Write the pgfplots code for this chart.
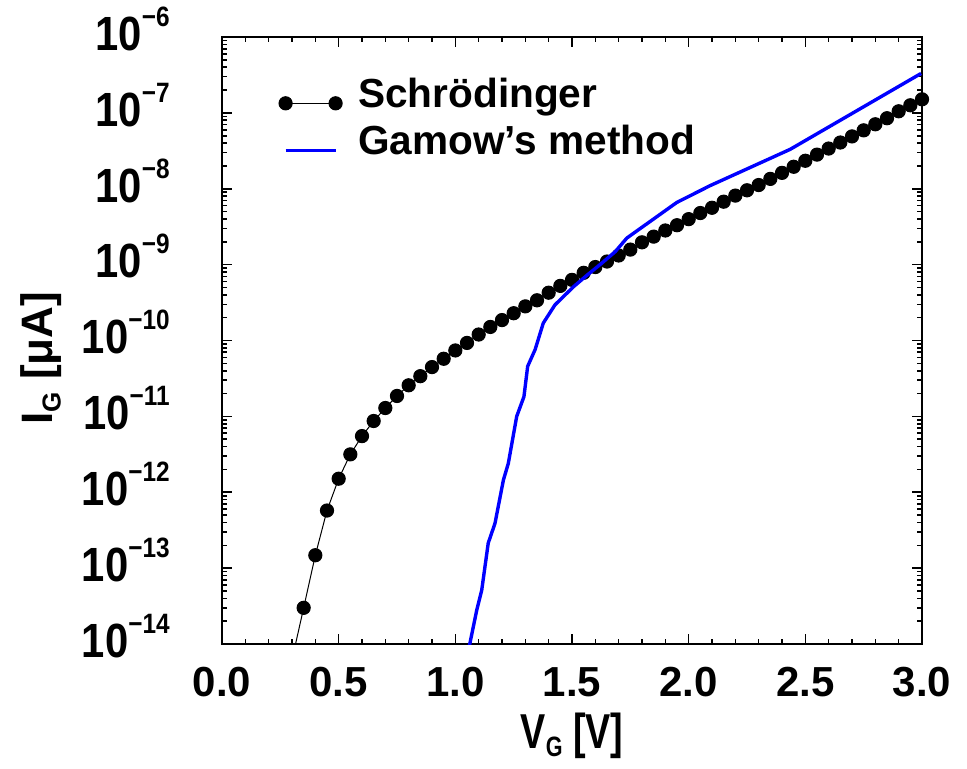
\documentclass[border=0pt]{standalone}
\usepackage{fontspec}
\setmainfont{Liberation Sans}
\usepackage{pgfplots}
\pgfplotsset{compat=1.18}
\newcommand{\ylab}[1]{\scalebox{0.87}[1]{10\raisebox{12pt}{\fontsize{14}{14}\selectfont −#1}}}
\begin{document}
\begin{tikzpicture}
\useasboundingbox (-111pt,-62pt) rectangle (372.5pt,322pt);
\begin{axis}[
  scale only axis, width=350pt, height=303.5pt,
  at={(0pt,0pt)}, anchor=south west,
  ymode=log, xmin=0, xmax=3, ymin=1e-14, ymax=1e-6,
  clip mode=individual,
  axis line style={line width=1.1pt},
  tick style={black, line width=0.8pt},
  tick align=inside,
  major tick length=5pt, minor tick length=2.6pt,
  xtick={0,0.5,1,1.5,2,2.5,3},
  xticklabels={0.0,0.5,1.0,1.5,2.0,2.5,3.0},
  minor x tick num=4,
  ytick={1e-14,1e-13,1e-12,1e-11,1e-10,1e-9,1e-8,1e-7,1e-6},
  yticklabels={\ylab{14},\ylab{13},\ylab{12},\ylab{11},\ylab{10},\ylab{9},\ylab{8},\ylab{7},\ylab{6}},
  xticklabel style={font=\fontsize{21}{21}\selectfont\bfseries, inner sep=0pt, anchor=north, yshift=-11.5pt},
  yticklabel style={font=\fontsize{24}{24}\selectfont\bfseries, inner sep=0pt, anchor=base east, xshift=-26pt, yshift=-6.65pt},
  every axis x label/.style={at={(axis description cs:0.5,-0.172)}, anchor=base, inner sep=0pt, font=\fontsize{24.5}{24.5}\selectfont\bfseries},
  every axis y label/.style={at={(axis description cs:-0.242,0.471)}, rotate=90, anchor=base, inner sep=0pt, font=\fontsize{22}{22}\selectfont\bfseries},
  xlabel={\scalebox{0.77}[1]{V\raisebox{-4pt}{\fontsize{14}{14}\selectfont G} [V]}},
  ylabel={I\raisebox{-4pt}{\fontsize{13}{13}\selectfont G} [μA]},
  legend style={at={(axis description cs:0,1)}, anchor=north west, xshift=28.5pt, yshift=-21.15pt,
    draw=none, fill=none, inner sep=0pt, outer sep=0pt, row sep=8.2pt,
    font=\fontsize{20.3}{20.3}\selectfont\bfseries,
    nodes={inner sep=0pt, anchor=base west, text height=14pt, text depth=0pt},
    /tikz/every odd column/.append style={column sep=8pt}},
  legend image code/.code={\draw[#1] plot coordinates {(0pt,2pt) (25pt,2pt)};},
]
\addplot[black, line width=0.5pt, mark=*, mark size=3.3pt] coordinates {
(0.35,3.0e-14) (0.40,1.48e-13) (0.45,5.75e-13) (0.50,1.51e-12) (0.55,3.16e-12)
(0.60,5.5e-12) (0.65,8.7e-12) (0.70,1.29e-11) (0.75,1.86e-11) (0.80,2.57e-11)
(0.85,3.39e-11) (0.90,4.47e-11) (0.95,5.75e-11) (1.00,7.4e-11) (1.05,9.3e-11)
(1.10,1.20e-10) (1.15,1.51e-10) (1.20,1.86e-10) (1.25,2.29e-10) (1.30,2.82e-10)
(1.35,3.39e-10) (1.40,4.27e-10) (1.45,5.25e-10) (1.50,6.3e-10) (1.55,7.8e-10)
(1.60,9.3e-10) (1.65,1.10e-9) (1.70,1.32e-9) (1.75,1.58e-9) (1.80,1.97e-9)
(1.85,2.34e-9) (1.90,2.82e-9) (1.95,3.31e-9) (2.00,3.98e-9) (2.05,4.79e-9)
(2.10,5.62e-9) (2.15,6.76e-9) (2.20,8.13e-9) (2.25,9.55e-9) (2.30,1.12e-8)
(2.35,1.35e-8) (2.40,1.62e-8) (2.45,1.95e-8) (2.50,2.34e-8) (2.55,2.82e-8)
(2.60,3.39e-8) (2.65,4.07e-8) (2.70,4.90e-8) (2.75,5.89e-8) (2.80,7.08e-8)
(2.85,8.51e-8) (2.90,1.05e-7) (2.95,1.26e-7) (3.00,1.51e-7)
};
\addlegendentry{Schrödinger}
\addplot[black, line width=0.5pt, forget plot] coordinates {(0.30,6.2e-15) (0.35,3.0e-14)};
\addplot[blue, line width=1.7pt] coordinates {
(1.055,7.9e-15) (1.092,2.82e-14) (1.113,5.1e-14) (1.141,2.14e-13) (1.170,3.9e-13)
(1.206,1.45e-12) (1.227,2.4e-12) (1.263,1.0e-11) (1.294,1.82e-11) (1.310,4.57e-11)
(1.342,7.6e-11) (1.377,1.70e-10) (1.427,2.95e-10) (1.506,5.1e-10) (1.563,7.2e-10)
(1.620,1.0e-9) (1.685,1.48e-9) (1.735,2.24e-9) (1.949,6.6e-9) (2.092,1.10e-8)
(2.435,3.31e-8) (2.996,3.31e-7)
};
\addlegendentry{Gamow’s method}
\end{axis}
\end{tikzpicture}
\end{document}
